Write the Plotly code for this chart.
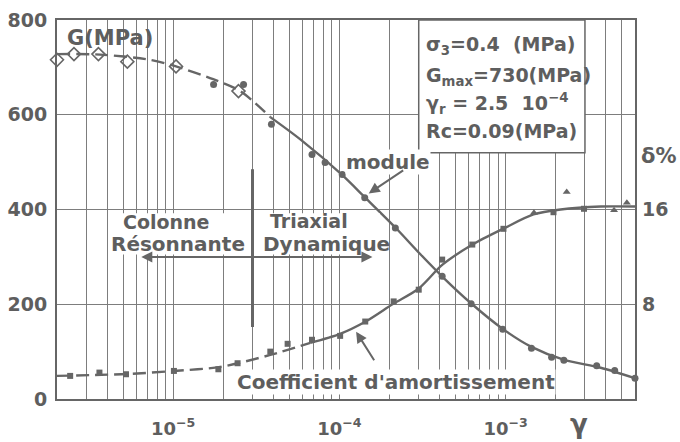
import math
import plotly.graph_objects as go

# ---- measured points: shear modulus G (MPa) ----
gamma_G_rc = [2.0e-6, 2.53e-6, 3.55e-6, 5.3e-6, 1.04e-5, 2.47e-5]          # colonne résonnante
G_rc = [716, 728, 728, 712, 702, 650]
gamma_G_tx = [1.75e-5, 2.65e-5, 3.9e-5, 6.84e-5, 8.2e-5, 1.04e-4, 1.42e-4, 2.17e-4,
              4.15e-4, 6.2e-4, 9.6e-4, 1.43e-3, 1.89e-3, 2.24e-3, 3.53e-3, 4.53e-3, 6.0e-3]
G_tx = [664, 664, 580, 516, 499, 474, 425, 361, 259, 201, 147, 107, 88, 82, 70, 60, 44]

# ---- measured points: damping ratio delta (%) ----
gamma_D_sq = [2.4e-6, 3.6e-6, 5.2e-6, 1.01e-5, 1.87e-5, 2.44e-5, 3.84e-5, 4.88e-5, 6.84e-5,
              1.01e-4, 1.43e-4, 2.12e-4, 3.0e-4, 4.15e-4, 6.3e-4, 9.7e-4, 1.94e-3, 2.96e-3]
D_sq = [1.95, 2.23, 2.09, 2.37, 2.51, 3.02, 4.0, 4.66, 5.0,
        5.33, 6.54, 8.24, 9.23, 11.77, 13.04, 14.37, 15.77, 16.06]
gamma_D_tri = [1.48e-3, 2.33e-3, 4.49e-3, 5.36e-3]
D_tri = [15.72, 17.47, 15.94, 16.57]

# ---- fitted curves (nodes) ----
gamma_Gfit_dash = [2.0e-6, 3.63e-6, 7.26e-6, 1.04e-5, 1.74e-5, 2.53e-5, 3.84e-5]
Gfit_dash = [728, 727, 716, 702, 675, 650, 595]
gamma_Gfit_solid = [3.84e-5, 5.82e-5, 1.03e-4, 1.43e-4, 2.17e-4, 3.08e-4, 4.17e-4, 6.24e-4,
                    9.6e-4, 1.43e-3, 2.23e-3, 3.73e-3, 6.0e-3]
Gfit_solid = [595, 548, 474, 425, 362, 305, 258, 201, 148, 110, 83, 66, 44]

gamma_Dfit_dash = [2.0e-6, 5.5e-6, 1.01e-5, 1.92e-5, 3.84e-5, 6.68e-5]
Dfit_dash = [1.95, 2.12, 2.37, 2.71, 3.72, 4.74]
gamma_Dfit_solid = [6.68e-5, 1.01e-4, 1.43e-4, 2.11e-4, 2.99e-4, 4.17e-4, 6.32e-4, 9.72e-4,
                    1.47e-3, 2.14e-3, 3.73e-3, 6.0e-3]
Dfit_solid = [4.74, 5.5, 6.52, 8.04, 9.31, 11.34, 13.04, 14.39, 15.58, 16.0, 16.25, 16.25]

# ---- axes ----
x_min, x_max = 2e-6, 6e-3
G_ticks = [0, 200, 400, 600, 800]
D_ticks = [8, 16]
decade_labels = {-5: "10<sup>−5</sup>", -4: "10<sup>−4</sup>", -3: "10<sup>−3</sup>"}

grid_vals, grid_text = [], []
for k in range(-6, -2):
    for m in range(1, 10):
        v = m * 10.0 ** k
        if x_min * 0.999 <= v <= x_max * 1.001:
            grid_vals.append(v)
            grid_text.append(decade_labels.get(k, "") if m == 1 else "")

INK = "#5e5e5e"
LINE = "#666666"
GRID = "#7d7d7d"
FONT = "DejaVu Sans, Liberation Sans, sans-serif"

fig = go.Figure()

line_style = dict(color=LINE, width=2.4, shape="spline", smoothing=0.8)
fig.add_trace(go.Scatter(x=gamma_Gfit_dash, y=Gfit_dash, mode="lines",
                         line=dict(**line_style, dash="13px,6px"), hoverinfo="skip"))
fig.add_trace(go.Scatter(x=gamma_Gfit_solid, y=Gfit_solid, mode="lines",
                         line=line_style, hoverinfo="skip"))
fig.add_trace(go.Scatter(x=gamma_Dfit_dash, y=Dfit_dash, mode="lines", yaxis="y2",
                         line=dict(**line_style, dash="13px,6px"), hoverinfo="skip"))
fig.add_trace(go.Scatter(x=gamma_Dfit_solid, y=Dfit_solid, mode="lines", yaxis="y2",
                         line=line_style, hoverinfo="skip"))

fig.add_trace(go.Scatter(x=gamma_G_rc, y=G_rc, mode="markers", cliponaxis=False,
                         marker=dict(symbol="diamond-open", size=10, color=LINE,
                                     line=dict(width=1.6, color=LINE))))
fig.add_trace(go.Scatter(x=gamma_G_tx, y=G_tx, mode="markers", cliponaxis=False,
                         marker=dict(symbol="circle", size=7, color=LINE)))
fig.add_trace(go.Scatter(x=gamma_D_sq, y=D_sq, mode="markers", yaxis="y2", cliponaxis=False,
                         marker=dict(symbol="square", size=6, color=LINE)))
fig.add_trace(go.Scatter(x=gamma_D_tri, y=D_tri, mode="markers", yaxis="y2", cliponaxis=False,
                         marker=dict(symbol="triangle-up", size=7, color=LINE)))

shapes = [
    # white band behind the test-method labels
    dict(type="rect", xref="x", yref="y", x0=4.2e-6, x1=1.75e-4, y0=305, y1=392,
         fillcolor="white", line=dict(width=0)),
    # boundary between the two test methods
    dict(type="line", xref="x", yref="y", x0=3e-5, x1=3e-5, y0=152, y1=485,
         line=dict(color=LINE, width=3)),
    # parameter box
    dict(type="rect", xref="x", yref="y", x0=3e-4, x1=3e-3, y0=520, y1=800,
         fillcolor="white", line=dict(color=LINE, width=1.5)),
]

bold = dict(family=FONT, size=20, color=INK, weight="bold")
ann = []


def label(text, x, y, xanchor="center", size=20, bg=None, **kw):
    a = dict(text=text, x=x, y=y, xref="paper", yref="paper", xanchor=xanchor,
             yanchor="middle", showarrow=False, font=dict(bold, size=size), borderpad=0, **kw)
    if bg:
        a["bgcolor"] = bg
    ann.append(a)


label("G(MPa)", 0.092, 0.952, size=21)
label("σ<sub>3</sub>=0.4  (MPa)", 0.636, 0.934, xanchor="left", size=19)
label("G<sub>max</sub>=730(MPa)", 0.636, 0.852, xanchor="left", size=19)
label("γ<sub>r</sub> = 2.5  10<sup>−4</sup>", 0.636, 0.781, xanchor="left", size=19)
label("Rc=0.09(MPa)", 0.636, 0.707, xanchor="left", size=19)
label("module", 0.572, 0.625, bg="white")
label("Colonne", 0.190, 0.468, size=19)
label("Résonnante", 0.209, 0.408)
label("Triaxial", 0.436, 0.470, size=19)
label("Dynamique", 0.467, 0.408)
label("Coefficient d'amortissement", 0.586, 0.045, bg="white")
label("δ%", 1.041, 0.640, size=21)
label("γ", 0.903, -0.065, size=26)

# arrows
ann.append(dict(x=math.log10(1.5e-4), y=434, xref="x", yref="y", ax=36, ay=-24,
                text="", showarrow=True, arrowhead=2, arrowsize=1.1, arrowwidth=2,
                arrowcolor=LINE))
ann.append(dict(x=math.log10(1.26e-4), y=142, xref="x", yref="y", ax=19, ay=30,
                text="", showarrow=True, arrowhead=2, arrowsize=1.1, arrowwidth=2,
                arrowcolor=LINE))
ann.append(dict(x=math.log10(1.58e-4), y=300, xref="x", yref="y",
                ax=math.log10(6.3e-6), ay=300, axref="x", ayref="y",
                text="", showarrow=True, arrowhead=2, startarrowhead=2, arrowside="end+start",
                arrowsize=1.1, arrowwidth=2, arrowcolor=LINE))

fig.update_layout(
    width=680, height=442,
    margin=dict(l=57, r=45, t=20, b=43, autoexpand=False),
    paper_bgcolor="white", plot_bgcolor="white",
    showlegend=False,
    shapes=shapes,
    annotations=ann,
    font=dict(family=FONT, color=INK),
    xaxis=dict(type="log", range=[math.log10(x_min), math.log10(x_max)],
               tickvals=grid_vals, ticktext=grid_text, ticks="", automargin=False,
               showgrid=True, gridcolor=GRID, gridwidth=1.4,
               showline=True, linecolor=LINE, linewidth=2, mirror=True,
               tickfont=dict(family=FONT, size=18, color=INK, weight="bold"),
               ticklabelstandoff=12, zeroline=False),
    yaxis=dict(range=[0, 800], tickvals=G_ticks, ticks="", automargin=False,
               showgrid=True, gridcolor=GRID, gridwidth=1.2,
               showline=True, linecolor=LINE, linewidth=2, mirror=True,
               tickfont=dict(family=FONT, size=19, color=INK, weight="bold"),
               ticklabelstandoff=4, zeroline=False),
    yaxis2=dict(range=[0, 32], tickvals=D_ticks, overlaying="y", side="right",
                showgrid=False, showline=False, ticks="", zeroline=False, automargin=False,
                tickfont=dict(family=FONT, size=19, color=INK, weight="bold"),
                ticklabelstandoff=6),
)

fig.write_html("out.html")
